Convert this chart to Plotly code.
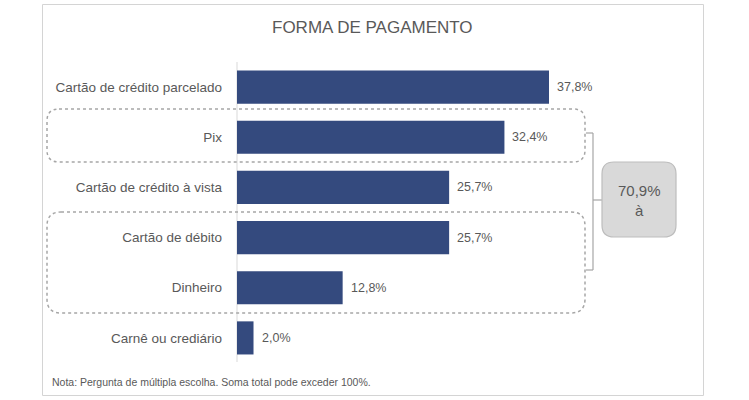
import plotly.graph_objects as go

categories = ["Cartão de crédito parcelado", "Pix", "Cartão de crédito à vista",
              "Cartão de débito", "Dinheiro", "Carnê ou crediário"]
values = [37.8, 32.4, 25.7, 25.7, 12.8, 2.0]
value_labels = ["37,8%", "32,4%", "25,7%", "25,7%", "12,8%", "2,0%"]
title_text = "FORMA DE PAGAMENTO"
note_text = "Nota: Pergunta de múltipla escolha. Soma total pode exceder 100%."
box_text = "70,9%<br>à"

W, H = 749, 400
L, R = 237, 700      # plot area in page pixels
T, B = 62, 363
FONT = "Liberation Sans"
GREY = "#595959"

def px(x):
    return (x - L) / (R - L)

def py(y):
    return (B - y) / (B - T)

def rounded_path(x0, y0, x1, y1, r):
    rx = r / (R - L)
    ry = r / (B - T)
    X0, X1 = px(x0), px(x1)
    Y0, Y1 = py(y1), py(y0)
    return (f"M {X0+rx},{Y1} L {X1-rx},{Y1} Q {X1},{Y1} {X1},{Y1-ry} "
            f"L {X1},{Y0+ry} Q {X1},{Y0} {X1-rx},{Y0} "
            f"L {X0+rx},{Y0} Q {X0},{Y0} {X0},{Y0+ry} "
            f"L {X0},{Y1-ry} Q {X0},{Y1} {X0+rx},{Y1} Z")

scale = 8.254  # px per percent
xmax = (R - L) / scale

fig = go.Figure()
fig.add_trace(go.Bar(
    y=categories, x=values, orientation="h",
    marker=dict(color="#344a7e", line=dict(width=0)),
    width=0.66,
    hoverinfo="skip",
))

shapes = []
shapes.append(dict(type="rect", xref="paper", yref="paper",
                   x0=px(42.5), x1=px(703.5), y0=py(395.5), y1=py(4.5),
                   line=dict(color="#d4d4d4", width=1), fillcolor="rgba(0,0,0,0)", layer="below"))
shapes.append(dict(type="path", xref="paper", yref="paper",
                   path=rounded_path(47, 109, 585, 162, 12),
                   line=dict(color="#a6a6a6", width=1.5, dash="dot")))
shapes.append(dict(type="path", xref="paper", yref="paper",
                   path=rounded_path(47, 212, 585, 313, 14),
                   line=dict(color="#a6a6a6", width=1.5, dash="dot")))
br = dict(color="#a6a6a6", width=1.2)
shapes.append(dict(type="line", xref="paper", yref="paper", x0=px(593), x1=px(593),
                   y0=py(133), y1=py(270), line=br))
shapes.append(dict(type="line", xref="paper", yref="paper", x0=px(586), x1=px(593),
                   y0=py(133), y1=py(133), line=br))
shapes.append(dict(type="line", xref="paper", yref="paper", x0=px(586), x1=px(593),
                   y0=py(270), y1=py(270), line=br))
shapes.append(dict(type="line", xref="paper", yref="paper", x0=px(593), x1=px(602),
                   y0=py(200), y1=py(200), line=br))
shapes.append(dict(type="path", xref="paper", yref="paper",
                   path=rounded_path(602, 162, 676, 237, 12),
                   line=dict(color="#bdbdbd", width=1.2), fillcolor="#d9d9d9"))
shapes.append(dict(type="line", xref="paper", yref="paper", x0=0, x1=0,
                   y0=py(362), y1=py(62), line=dict(color="#d9d9d9", width=1), layer="below"))

annotations = [
    dict(text=title_text, x=px(372), y=py(27), xref="paper", yref="paper",
         showarrow=False, xanchor="center", yanchor="middle",
         font=dict(family=FONT, size=17, color=GREY)),
    dict(text=box_text, x=px(639), y=py(200), xref="paper", yref="paper",
         showarrow=False, xanchor="center", yanchor="middle", align="center",
         font=dict(family=FONT, size=15, color=GREY)),
    dict(text=note_text, x=px(50), y=py(382), xref="paper", yref="paper",
         showarrow=False, xanchor="left", yanchor="middle",
         font=dict(family=FONT, size=10.5, color=GREY)),
]
for c, v, t in zip(categories, values, value_labels):
    annotations.append(dict(text=t, x=v, y=c, xref="x", yref="y", showarrow=False,
                            xanchor="left", yanchor="middle", xshift=6,
                            font=dict(family=FONT, size=12.5, color=GREY)))

fig.update_layout(
    width=W, height=H,
    margin=dict(l=L, r=W - R, t=T, b=H - B, pad=0),
    paper_bgcolor="white", plot_bgcolor="white",
    showlegend=False,
    xaxis=dict(range=[0, xmax], visible=False, fixedrange=True),
    yaxis=dict(categoryorder="array", categoryarray=categories[::-1],
               range=[-0.5, len(categories) - 0.5],
               showgrid=False, zeroline=False, showline=False,
               ticks="", ticklabelstandoff=14,
               tickfont=dict(family=FONT, size=13.5, color=GREY), fixedrange=True),
    shapes=shapes, annotations=annotations,
)

fig.write_html("out.html", config={"displayModeBar": False},
               post_script="document.body.style.margin='0';document.body.style.overflow='hidden';")
